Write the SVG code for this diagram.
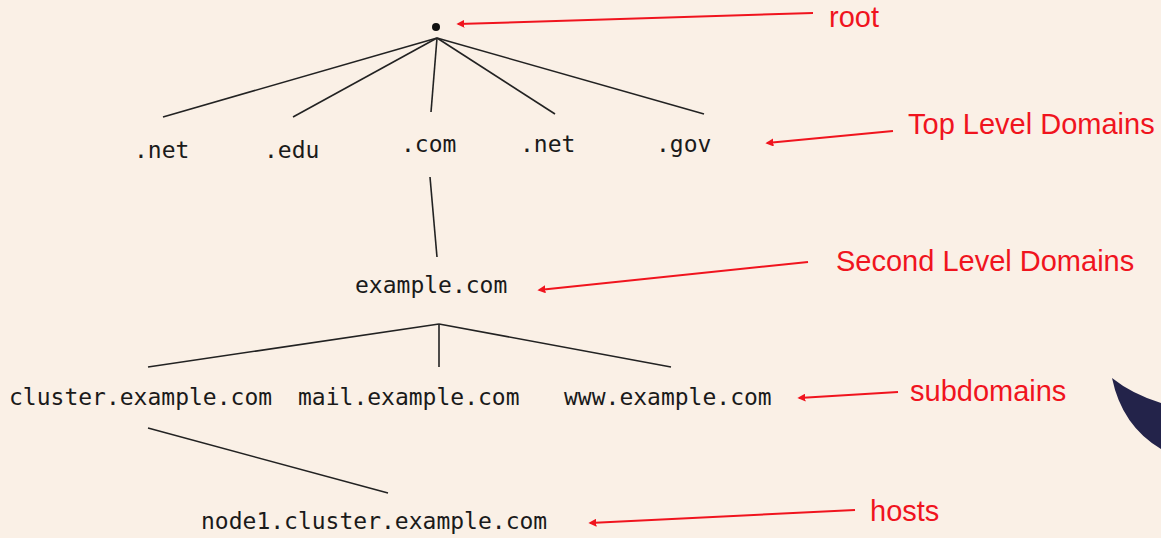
<svg xmlns="http://www.w3.org/2000/svg" width="1161" height="538" viewBox="0 0 1161 538">
<defs>
<style>
.bg{fill:#FAF0E6}
.node{font-family:"DejaVu Sans Mono","Liberation Mono",monospace;font-size:23px;fill:#1a1a1a}
.lab{font-family:"Liberation Sans",Arial,sans-serif;font-size:29px;fill:#F0141E}
.edge{stroke:#222;stroke-width:1.6;fill:none}
.ann{stroke:#F0141E;stroke-width:2;fill:none;marker-end:url(#ah)}
</style>
<marker id="ah" viewBox="0 0 10 10" refX="8" refY="5" markerWidth="4" markerHeight="4" orient="auto" markerUnits="strokeWidth">
<path d="M0,0 L10,5 L0,10 z" fill="#F0141E"/>
</marker>
</defs>
<rect class="bg" width="1161" height="538"/>
<path d="M1112,378 Q1132,394 1161,403 L1161,449 Q1122,426 1112,378 Z" fill="#23234A"/>
<g id="connectors">
<line class="edge" x1="437" y1="38" x2="163" y2="117"/>
<line class="edge" x1="437" y1="38" x2="293" y2="117"/>
<line class="edge" x1="437" y1="38" x2="431" y2="112"/>
<line class="edge" x1="437" y1="38" x2="555" y2="114"/>
<line class="edge" x1="437" y1="38" x2="704" y2="114"/>
<line class="edge" x1="430" y1="177" x2="437" y2="257"/>
<line class="edge" x1="439" y1="324" x2="148" y2="367"/>
<line class="edge" x1="439" y1="324" x2="439" y2="367"/>
<line class="edge" x1="439" y1="324" x2="671" y2="367"/>
<line class="edge" x1="148" y1="428" x2="388" y2="493"/>
<line class="ann" x1="813" y1="13" x2="458" y2="24"/>
<line class="ann" x1="893" y1="131" x2="767" y2="143"/>
<line class="ann" x1="808" y1="262" x2="539" y2="290"/>
<line class="ann" x1="898" y1="392" x2="799" y2="398"/>
<line class="ann" x1="855" y1="510" x2="590" y2="523"/>
</g>
<g id="root"><circle cx="436" cy="27" r="4" fill="#111"/></g>
<g id="net1"><text class="node" x="134" y="158">.net</text></g>
<g id="edu"><text class="node" x="264" y="158">.edu</text></g>
<g id="com"><text class="node" x="401" y="152">.com</text></g>
<g id="net2"><text class="node" x="520" y="152">.net</text></g>
<g id="gov"><text class="node" x="656" y="152">.gov</text></g>
<g id="example"><text class="node" x="355" y="293">example.com</text></g>
<g id="cluster"><text class="node" x="9" y="405">cluster.example.com</text></g>
<g id="mail"><text class="node" x="298" y="405">mail.example.com</text></g>
<g id="www"><text class="node" x="564" y="405">www.example.com</text></g>
<g id="node1"><text class="node" x="201" y="529">node1.cluster.example.com</text></g>
<g id="labels">
<text class="lab" x="829" y="27">root</text>
<text class="lab" x="908" y="134">Top Level Domains</text>
<text class="lab" x="836" y="271">Second Level Domains</text>
<text class="lab" x="910" y="401">subdomains</text>
<text class="lab" x="870" y="521">hosts</text>
</g>
</svg>
